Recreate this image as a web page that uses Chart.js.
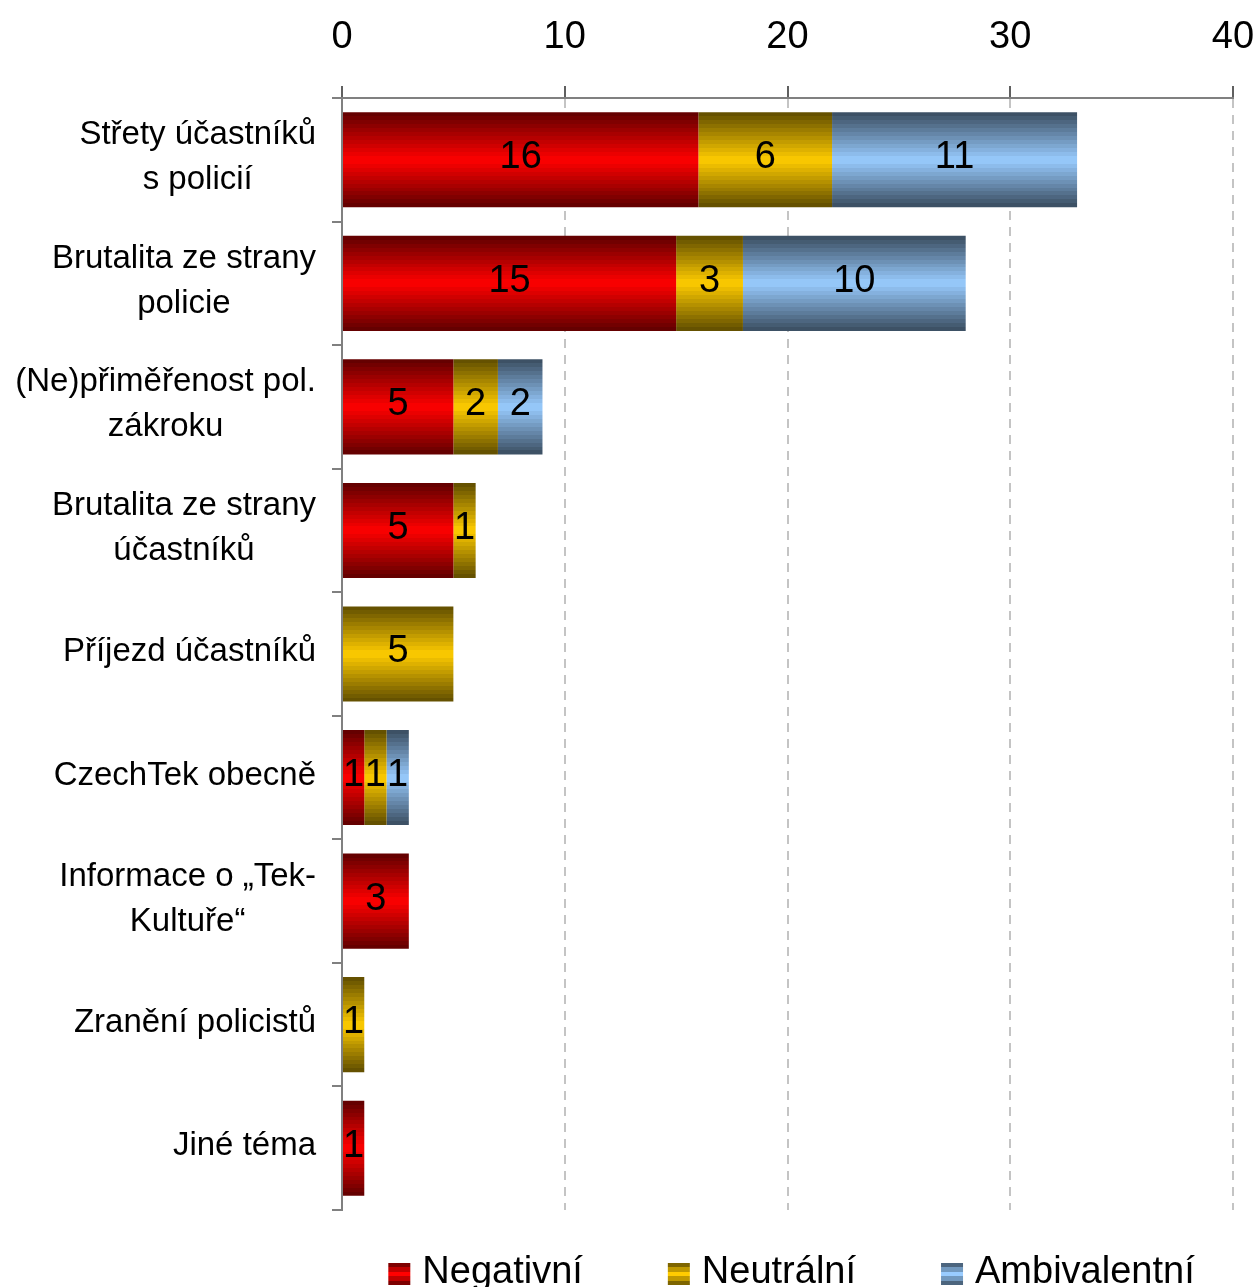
<!DOCTYPE html>
<html>
<head>
<meta charset="utf-8">
<script src="https://cdn.jsdelivr.net/npm/chart.js@4.4.1/dist/chart.umd.min.js"></script>
<style>
  html, body { margin: 0; padding: 0; background: #ffffff; }
  #c { display: block; }
</style>
</head>
<body>
<canvas id="c" width="1259" height="1287"></canvas>
<script>
// ---- data ----
const categories = [
  ["Střety účastníků", "s policií"],
  ["Brutalita ze strany", "policie"],
  ["(Ne)přiměřenost pol.", "zákroku"],
  ["Brutalita ze strany", "účastníků"],
  "Příjezd účastníků",
  "CzechTek obecně",
  ["Informace o „Tek-", "Kultuře“"],
  "Zranění policistů",
  "Jiné téma"
];
const seriesNames = ["Negativní", "Neutrální", "Ambivalentní"];
const negativni    = [16, 15, 5, 5, 0, 1, 3, 0, 1];
const neutralni    = [6, 3, 2, 1, 5, 1, 0, 1, 0];
const ambivalentni = [11, 10, 2, 0, 0, 1, 0, 0, 0];
const xMin = 0, xMax = 40, xStep = 10;

// ---- styles ----
const FONT = "'Liberation Sans', Arial, Helvetica, sans-serif";
const baseColors = [[255, 0, 0], [255, 204, 0], [153, 204, 255]];
const BAR_PCT = 0.77;

function shade(rgb, f) {
  return 'rgb(' + rgb.map(v => Math.round(v * f)).join(',') + ')';
}
function bandFactor(t) {
  const d = Math.abs(t - 0.5) * 2;
  return 1 - 0.63 * d;
}
function stepGradient(ctx, y0, y1, rgb, bands) {
  const g = ctx.createLinearGradient(0, y0, 0, y1);
  for (let b = 0; b < bands; b++) {
    const t = (b + 0.5) / bands;
    const col = shade(rgb, bandFactor(t));
    g.addColorStop(b / bands, col);
    g.addColorStop((b + 1) / bands, col);
  }
  return g;
}
function barFill(idx) {
  return function (ctx) {
    const chart = ctx.chart;
    const ys = chart.scales && chart.scales.y;
    if (!ys || ctx.type !== 'data' || !ys.height) return shade(baseColors[idx], 1);
    const c = ys.getPixelForValue(ctx.dataIndex);
    const h = ys.height / categories.length * BAR_PCT;
    return stepGradient(chart.ctx, c - h / 2, c + h / 2, baseColors[idx], 24);
  };
}

// ---- plugins ----
const valueLabels = {
  id: 'valueLabels',
  afterDatasetsDraw(chart) {
    const ctx = chart.ctx;
    ctx.save();
    ctx.font = '38px ' + FONT;
    ctx.fillStyle = '#000';
    ctx.textAlign = 'center';
    ctx.textBaseline = 'middle';
    chart.data.datasets.forEach((ds, di) => {
      const meta = chart.getDatasetMeta(di);
      meta.data.forEach((el, i) => {
        const v = ds.data[i];
        if (!v) return;
        const p = el.getCenterPoint();
        ctx.fillText(String(v), p.x, p.y - 2);
      });
    });
    ctx.restore();
  }
};

const categoryLabels = {
  id: 'categoryLabels',
  afterDraw(chart) {
    const ctx = chart.ctx;
    const ys = chart.scales.y;
    const lineH = 45;
    ctx.save();
    ctx.font = '33px ' + FONT;
    ctx.fillStyle = '#000';
    ctx.textAlign = 'center';
    ctx.textBaseline = 'middle';
    categories.forEach((lab, i) => {
      const lines = Array.isArray(lab) ? lab : [lab];
      const c = ys.getPixelForValue(i);
      const w = Math.max(...lines.map(l => ctx.measureText(l).width));
      const cx = ys.right - 26 - w / 2;
      lines.forEach((l, j) => {
        ctx.fillText(l, cx, c + (j - (lines.length - 1) / 2) * lineH - 2);
      });
    });
    ctx.restore();
  }
};

const customLegend = {
  id: 'customLegend',
  afterDraw(chart) {
    const ctx = chart.ctx;
    const area = chart.chartArea;
    ctx.save();
    ctx.font = '38px ' + FONT;
    ctx.textBaseline = 'alphabetic';
    ctx.textAlign = 'left';
    const box = 22, gapBT = 12, gapItems = 85;
    const widths = chart.data.datasets.map(ds => ctx.measureText(ds.label).width);
    const total = widths.reduce((a, b) => a + b, 0) + widths.length * (box + gapBT) + (widths.length - 1) * gapItems;
    let x = (area.left + area.right) / 2 + 4 - total / 2;
    const boxTop = area.bottom + 53;
    const baseline = area.bottom + 73;
    chart.data.datasets.forEach((ds, i) => {
      ctx.fillStyle = stepGradient(ctx, boxTop, boxTop + box, baseColors[i], 5);
      ctx.fillRect(x, boxTop, box, box);
      ctx.fillStyle = '#000';
      ctx.fillText(ds.label, x + box + gapBT, baseline);
      x += box + gapBT + widths[i] + gapItems;
    });
    ctx.restore();
  }
};

// ---- chart ----
const chart = new Chart(document.getElementById('c'), {
  type: 'bar',
  data: {
    labels: categories,
    datasets: [
      { label: seriesNames[0], data: negativni,    backgroundColor: barFill(0), borderWidth: 0 },
      { label: seriesNames[1], data: neutralni,    backgroundColor: barFill(1), borderWidth: 0 },
      { label: seriesNames[2], data: ambivalentni, backgroundColor: barFill(2), borderWidth: 0 }
    ]
  },
  options: {
    indexAxis: 'y',
    responsive: false,
    animation: false,
    devicePixelRatio: 1,
    categoryPercentage: 1,
    barPercentage: BAR_PCT,
    layout: { padding: { left: 0, right: 26, top: 0, bottom: 77 } },
    plugins: {
      legend: { display: false },
      tooltip: { enabled: false }
    },
    scales: {
      x: {
        type: 'linear',
        position: 'top',
        stacked: true,
        min: xMin,
        max: xMax,
        ticks: {
          stepSize: xStep,
          color: '#000',
          font: { family: FONT, size: 38 },
          padding: 26,
          maxRotation: 0
        },
        grid: {
          color: '#c4c4c4',
          lineWidth: 2,
          drawTicks: true,
          tickLength: 12,
          tickColor: '#606060',
          tickWidth: 2
        },
        border: { display: true, color: '#808080', width: 2, dash: [9, 7] },
        afterFit(scale) {
          scale.height = 98;
          scale.paddingLeft = 0;
          scale.paddingRight = 0;
        }
      },
      y: {
        type: 'category',
        stacked: true,
        offset: true,
        ticks: { display: false },
        grid: {
          offset: true,
          drawOnChartArea: false,
          drawTicks: true,
          tickLength: 10,
          color: '#808080',
          tickColor: '#808080',
          tickWidth: 2,
          lineWidth: 2
        },
        border: { display: true, color: '#808080', width: 2 },
        afterFit(scale) { scale.width = 342; }
      }
    }
  },
  plugins: [valueLabels, categoryLabels, customLegend]
});
</script>
</body>
</html>
